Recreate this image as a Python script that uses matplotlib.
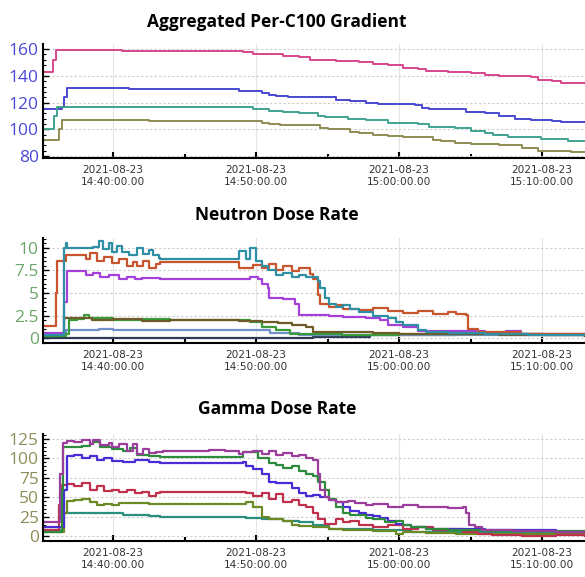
import numpy as np
import matplotlib
matplotlib.use("Agg")
import matplotlib.pyplot as plt
import matplotlib.dates as mdates
from matplotlib.ticker import AutoMinorLocator

# times are minutes after 2021-08-23 14:40:00
# ---- Aggregated Per-C100 Gradient ----
grad_pink_t = [-4.9, -4.4, -4.2, -4.0, 0.4, 0.6, 9.1, 9.8, 11.9, 13.0, 13.8, 15.6, 17.2, 18.2,
               19.2, 20.3, 21.3, 21.9, 23.4, 25.0, 26.0, 27.0, 29.2, 29.7, 30.7, 31.3, 33.0]
grad_pink_v = [143, 143, 152, 159, 159.5, 158.5, 158, 156, 155, 154, 152, 151, 150, 149,
               148, 146, 145, 144, 143, 142, 141, 140, 139, 137, 136, 135, 135]
grad_blue_t = [-4.9, -3.6, -3.4, -3.2, 1.1, 8.8, 10.4, 10.9, 11.4, 12.2, 13.0, 15.6, 16.6,
               17.7, 18.5, 21.1, 21.6, 22.1, 24.7, 26.0, 27.0, 28.1, 29.2, 30.7, 31.3, 33.0]
grad_blue_v = [115, 117, 124, 131, 130, 129, 127, 126, 125, 124.5, 124, 122, 121,
               120, 119, 118, 116, 115, 113, 112, 110, 108, 107, 106, 105.5, 105.5]
grad_teal_t = [-4.9, -4.1, -3.9, 9.8, 10.9, 11.9, 13.0, 14.3, 14.8, 16.4, 17.7, 19.2, 21.3,
               22.1, 23.9, 25.0, 26.0, 26.6, 27.6, 29.9, 31.8, 33.0]
grad_teal_v = [100, 110, 116.5, 115.5, 114, 113, 112, 110, 109, 108, 107, 105, 104,
               102, 101, 99, 97, 96, 94, 93, 91, 91]
grad_olive_t = [-4.9, -3.8, -3.6, 2.5, 10.4, 10.9, 11.7, 14.5, 15.0, 16.6, 17.2, 18.2, 19.2,
                20.3, 22.4, 22.9, 23.9, 25.0, 27.0, 28.6, 29.7, 31.3, 32.0, 33.0]
grad_olive_v = [92, 100, 107, 106, 105, 104, 103, 101, 100, 98, 97, 96, 95,
                94, 92, 91, 90, 89, 88, 86, 84, 83.5, 83, 83]

# ---- Neutron Dose Rate ----
neu_teal_t = [-4.9, -3.6, -3.4, -3.26, -3.2, -2.7, -1.4, -1.0, -0.7, -0.3, -0.1, 0.3, 0.6, 1.1,
              1.7, 2.1, 2.5, 2.8, 3.2, 3.3, 8.8, 9.3, 9.6, 10.0, 10.4, 10.8, 11.4, 11.9, 12.5,
              13.0, 13.5, 14.3, 14.5, 14.8, 15.1, 15.6, 16.1, 16.6, 17.2, 18.2, 19.2, 19.8,
              20.3, 20.8, 21.3, 21.9, 23.4, 26.0, 29.0, 33.0]
neu_teal_v = [0.3, 0.3, 10.0, 10.5, 10.0, 10.0, 10.1, 10.8, 9.9, 10.5, 9.6, 10.2, 9.5, 9.2,
              10.0, 9.3, 9.8, 9.2, 8.9, 8.8, 9.7, 8.8, 10.0, 8.6, 8.0, 7.5, 7.0, 7.2, 6.8,
              7.0, 6.8, 6.3, 5.5, 4.5, 3.8, 3.5, 3.7, 3.2, 2.9, 2.4, 2.2, 1.8,
              1.4, 1.5, 0.9, 0.7, 0.6, 0.5, 0.35, 0.3]
neu_orange_t = [-4.9, -4.0, -3.9, -3.3, -2.7, -1.9, -1.6, -1.1, -0.6, -0.1, 0.4, 1.0, 1.4, 1.7,
                2.1, 2.5, 3.0, 3.3, 8.8, 9.8, 10.4, 10.9, 11.4, 11.9, 12.5, 13.0, 13.8, 14.0,
                14.3, 14.5, 15.1, 15.6, 16.1, 17.2, 18.2, 19.2, 20.3, 21.3, 22.4, 23.4, 24.0,
                24.7, 24.8, 25.5, 28.5, 33.0]
neu_orange_v = [1.3, 5.0, 8.5, 9.2, 9.2, 8.8, 9.4, 8.5, 9.0, 8.3, 8.8, 8.0, 8.4, 8.0,
                8.5, 7.8, 8.2, 8.4, 7.8, 8.1, 7.8, 8.2, 7.6, 8.0, 7.4, 7.8, 7.1, 6.5,
                4.8, 3.8, 3.5, 3.7, 3.2, 3.1, 3.3, 3.0, 2.8, 3.0, 2.7, 2.9, 2.7,
                2.6, 1.0, 0.7, 0.5, 0.5]
neu_purple_t = [-4.9, -3.6, -3.4, -3.2, -2.2, -1.9, -1.4, -0.9, -0.3, 0.4, 1.0, 1.5, 2.0, 3.3,
                8.8, 9.6, 10.1, 10.4, 10.8, 10.9, 11.9, 12.7, 13.0, 15.1, 16.1, 17.7, 18.7,
                19.2, 20.3, 21.3, 26.0, 27.5, 28.5, 33.0]
neu_purple_v = [0.6, 0.6, 4.0, 7.4, 7.4, 7.0, 7.2, 6.8, 7.0, 6.6, 6.8, 6.5, 6.7, 6.6,
                6.6, 6.8, 6.5, 6.0, 5.5, 4.5, 4.3, 3.8, 2.6, 2.5, 2.3, 2.2, 2.0,
                1.5, 1.2, 0.8, 0.6, 0.75, 0.4, 0.4]
neu_brown_t = [-4.9, -3.6, -3.4, -2.0, -1.5, 0.0, 2.0, 4.0, 6.0, 8.8, 10.4, 11.5, 12.5, 13.5,
               14.0, 18.2, 20.0, 24.0, 27.0, 33.0]
neu_brown_v = [0.5, 0.6, 2.2, 2.2, 2.0, 2.1, 1.9, 2.0, 1.95, 1.9, 1.8, 1.7, 1.5, 1.2,
               0.7, 0.6, 0.5, 0.45, 0.3, 0.25]
neu_green_t = [-4.9, -3.3, -3.1, -2.5, -2.0, -1.7, 0.0, 2.0, 4.0, 8.0, 9.6, 10.4, 11.4, 12.4,
               16.0, 20.0, 33.0]
neu_green_v = [0.2, 0.4, 2.0, 2.1, 2.6, 2.2, 2.0, 2.1, 1.95, 2.0, 1.8, 1.2, 0.9, 0.5,
               0.35, 0.4, 0.3]
neu_blue_t = [-4.9, -3.6, -3.3, -1.0, 0.0, 10.0, 11.0, 13.0, 33.0]
neu_blue_v = [0.3, 0.3, 0.9, 1.0, 0.9, 0.85, 0.6, 0.3, 0.2]
neu_navy_t = [-4.9, 14.0, 18.0, 24.0, 30.0, 33.0]
neu_navy_v = [0.05, 0.1, 0.3, 0.45, 0.3, 0.3]

# ---- Gamma Dose Rate ----
gam_purple_t = [-4.9, -4.0, -3.7, -3.5, -3.2, -2.7, -2.2, -1.6, -1.4, -0.9, -0.3, -0.1, 0.4,
                1.0, 1.4, 1.7, 2.1, 2.5, 3.0, 3.5, 6.7, 7.8, 8.8, 9.1, 9.8, 10.4, 10.9, 11.4,
                11.9, 12.5, 13.0, 13.5, 14.0, 14.3, 14.5, 14.8, 15.1, 15.6, 16.4, 16.9, 17.7,
                18.2, 19.2, 20.3, 21.3, 22.4, 23.4, 24.5, 24.7, 24.9, 25.3, 25.8, 28.0, 31.0, 33.0]
gam_purple_v = [18, 18, 80, 120, 122, 121, 123, 118, 124, 117, 120, 115, 119,
                110, 118, 106, 112, 107, 108, 109, 111, 110, 106, 108, 110, 106, 109, 104,
                107, 103, 105, 100, 98, 80, 60, 50, 47, 44, 45, 43, 40,
                41, 38, 40, 37, 38, 36, 37, 30, 15, 12, 8, 7, 6, 5]
gam_green_t = [-4.9, -4.0, -3.6, -3.5, -2.2, -1.6, -1.4, -0.9, -0.1, 0.7, 1.2, 1.7, 2.5, 3.3,
               8.8, 9.1, 10.1, 10.9, 11.4, 11.9, 12.5, 13.0, 13.5, 14.0, 14.3, 14.8, 15.1,
               15.6, 16.1, 16.6, 17.7, 18.2, 19.0, 19.8, 20.3, 20.8, 21.9, 23.4, 26.0, 33.0]
gam_green_v = [5, 5, 60, 115, 116, 118, 121, 114, 112, 109, 113, 105, 103, 102,
               102, 108, 100, 94, 92, 88, 90, 84, 80, 78, 70, 60, 48,
               38, 30, 28, 24, 22, 18, 20, 15, 12, 10, 8, 7, 6]
gam_blue_t = [-4.9, -3.7, -3.4, -3.2, -2.7, -2.2, -1.6, -1.1, -0.6, -0.1, 0.7, 1.5, 2.5, 3.3,
              8.8, 9.1, 9.3, 9.8, 10.4, 10.9, 11.4, 11.9, 12.5, 13.0, 13.5, 14.0, 14.5, 15.1,
              15.6, 16.1, 16.6, 17.2, 17.7, 18.2, 18.7, 19.2, 19.8, 20.3, 20.8, 21.9, 23.4,
              26.0, 28.6, 31.0, 33.0]
gam_blue_v = [12, 12, 60, 103, 104, 101, 103, 98, 100, 97, 96, 98, 95, 94,
              94, 96, 90, 87, 80, 70, 68, 69, 62, 56, 52, 53, 50, 46,
              44, 38, 33, 30, 28, 26, 24, 20, 16, 14, 12, 10, 9,
              8, 8, 6, 6]
gam_red_t = [-4.9, -4.1, -3.8, -3.6, -3.2, -2.7, -2.2, -1.6, -1.1, -0.6, -0.1, 0.4, 1.0, 1.5,
             2.0, 2.5, 3.0, 3.3, 8.8, 9.3, 9.8, 10.4, 10.9, 11.4, 11.9, 12.5, 13.0, 13.5,
             14.0, 14.3, 14.8, 15.6, 16.1, 16.6, 17.2, 18.2, 19.2, 20.3, 21.3, 22.4, 23.4,
             24.5, 25.5, 26.5, 28.6, 31.0, 33.0]
gam_red_v = [8, 8, 40, 66, 67, 64, 68, 60, 64, 58, 60, 57, 60, 55,
             57, 52, 56, 57, 57, 56, 52, 55, 48, 54, 44, 46, 40, 38,
             30, 22, 16, 22, 18, 20, 15, 12, 14, 10, 12, 8, 10,
             6, 3, 2, 1, 2, 1]
gam_olive_t = [-4.9, -3.7, -3.4, -3.2, -2.7, -2.2, -1.6, -1.1, -0.6, -0.1, 0.4, 2.5, 8.8, 9.3,
               9.8, 10.4, 10.9, 11.9, 12.5, 13.0, 14.0, 15.1, 16.1, 18.2, 19.8, 20.3, 21.9,
               24.0, 33.0]
gam_olive_v = [5, 5, 30, 45, 46, 48, 44, 40, 42, 40, 43, 41, 41, 44,
               38, 25, 22, 20, 14, 13, 12, 10, 8, 7, 3, 5, 4,
               3, 2]
gam_teal_t = [-4.9, -3.7, -3.5, -0.1, 0.7, 2.5, 3.3, 8.8, 9.3, 10.4, 11.9, 13.0, 14.0, 15.1,
              17.2, 18.2, 20.8, 33.0]
gam_teal_v = [8, 8, 30, 30, 28, 26, 25, 25, 24, 22, 20, 18, 14, 10,
              9, 8, 6, 5]

base = np.datetime64("2021-08-23T14:40:00")


def to_time(t):
    return base + (np.array(t) * 60000).astype("timedelta64[ms]")


panels = [
    {
        "title": "Aggregated Per-C100 Gradient",
        "rect": [0.0735, 0.726, 0.9265, 0.197],
        "title_y": 0.962,
        "ylim": (78.5, 163.5),
        "yticks": [80, 100, 120, 140, 160],
        "yticklabels": ["80", "100", "120", "140", "160"],
        "ycolor": "#4a48d4",
        "lw": 1.4,
        "series": [
            (grad_pink_t, grad_pink_v, "#d8468c"),
            (grad_blue_t, grad_blue_v, "#4a48d0"),
            (grad_teal_t, grad_teal_v, "#41a38f"),
            (grad_olive_t, grad_olive_v, "#8f8c55"),
        ],
    },
    {
        "title": "Neutron Dose Rate",
        "rect": [0.0735, 0.4055, 0.9265, 0.182],
        "title_y": 0.628,
        "ylim": (-0.55, 11.1),
        "yticks": [0, 2.5, 5, 7.5, 10],
        "yticklabels": ["0", "2.5", "5", "7.5", "10"],
        "ycolor": "#6aa56a",
        "lw": 1.6,
        "series": [
            (neu_navy_t, neu_navy_v, "#2e3b55"),
            (neu_blue_t, neu_blue_v, "#6f93c9"),
            (neu_green_t, neu_green_v, "#3a9a3a"),
            (neu_brown_t, neu_brown_v, "#6e5b2a"),
            (neu_purple_t, neu_purple_v, "#a540d8"),
            (neu_orange_t, neu_orange_v, "#c8552d"),
            (neu_teal_t, neu_teal_v, "#2f8fa5"),
        ],
    },
    {
        "title": "Gamma Dose Rate",
        "rect": [0.0735, 0.0624, 0.9265, 0.185],
        "title_y": 0.292,
        "ylim": (-6, 131),
        "yticks": [0, 25, 50, 75, 100, 125],
        "yticklabels": ["0", "25", "50", "75", "100", "125"],
        "ycolor": "#8e8e5a",
        "lw": 1.6,
        "series": [
            (gam_teal_t, gam_teal_v, "#2a8f7e"),
            (gam_olive_t, gam_olive_v, "#6b8a25"),
            (gam_red_t, gam_red_v, "#c0304a"),
            (gam_blue_t, gam_blue_v, "#4b2bd6"),
            (gam_green_t, gam_green_v, "#2e8b3e"),
            (gam_purple_t, gam_purple_v, "#9b3d9b"),
        ],
    },
]

fig = plt.figure(figsize=(5.85, 5.77), dpi=100)

for p in panels:
    ax = fig.add_axes(p["rect"])
    for t, v, c in p["series"]:
        ax.plot(to_time(t), v, color=c, lw=p["lw"], drawstyle="steps-post")
    ax.set_xlim(to_time([-4.9])[0], to_time([33.0])[0])
    ax.set_ylim(*p["ylim"])
    ax.set_yticks(p["yticks"])
    ax.set_yticklabels(p["yticklabels"], color=p["ycolor"], fontsize=12.5,
                       family="Open Sans")
    ax.yaxis.set_minor_locator(AutoMinorLocator(5))
    ax.xaxis.set_major_locator(mdates.MinuteLocator(byminute=[0, 10, 20, 30, 40, 50]))
    ax.xaxis.set_minor_locator(mdates.MinuteLocator(byminute=[5, 15, 25, 35, 45, 55]))
    ax.xaxis.set_major_formatter(mdates.DateFormatter("%Y-%m-%d\n%H:%M:%S.00"))
    for lab in ax.get_xticklabels():
        lab.set_fontsize(7.6)
        lab.set_color("#333333")
        lab.set_family("DejaVu Sans")
    ax.tick_params(axis="y", direction="in", length=4, width=1, pad=3)
    ax.tick_params(axis="y", which="minor", direction="in", length=2, width=0.8)
    ax.tick_params(axis="x", direction="in", length=4, width=1.5, pad=5)
    ax.tick_params(axis="x", which="minor", direction="in", length=3, width=1.5)
    ax.grid(axis="y", color="#cccccc", linestyle=(0, (2, 2)), lw=0.8)
    ax.grid(axis="x", color="#e4e4e4", linestyle="-", lw=0.8)
    for s in ["top", "right"]:
        ax.spines[s].set_visible(False)
    ax.spines["left"].set_linewidth(1.5)
    ax.spines["bottom"].set_linewidth(1.5)
    fig.text(0.473, p["title_y"], p["title"], ha="center", va="center",
             fontsize=12.5, fontweight="bold", family="Open Sans")

plt.savefig("out.png", dpi=100)
